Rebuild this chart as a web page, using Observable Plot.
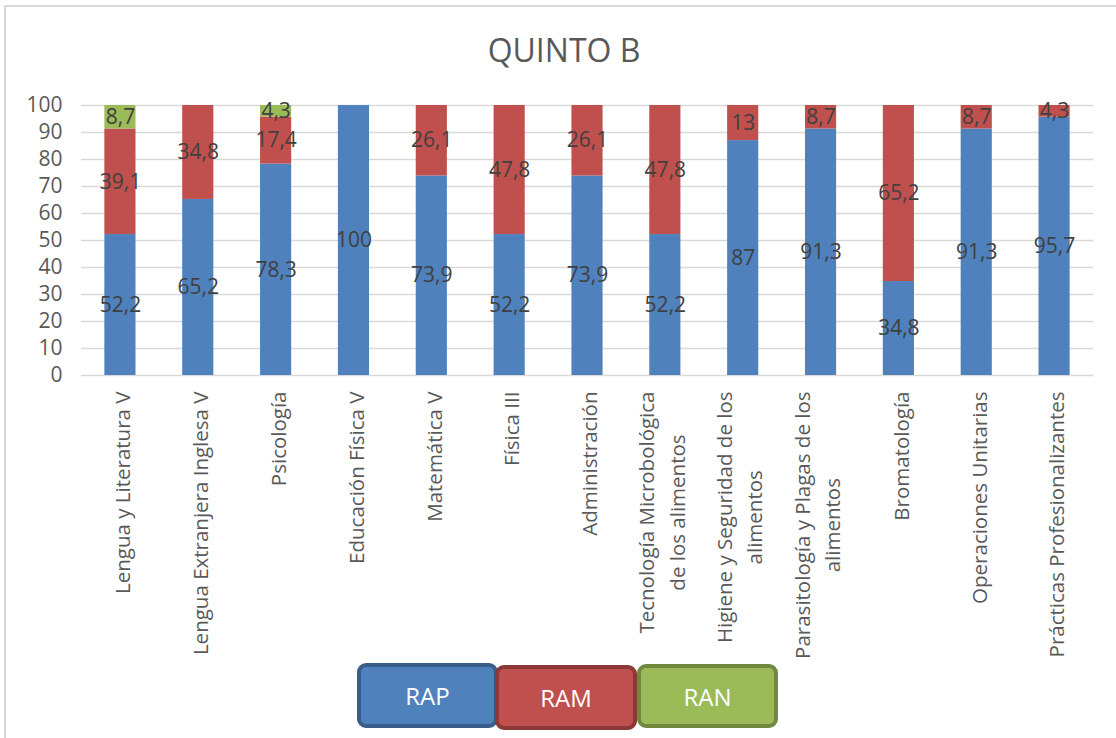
<!DOCTYPE html>
<html><head><meta charset="utf-8">
<script src="https://cdn.jsdelivr.net/npm/d3@7"></script>
<script src="https://cdn.jsdelivr.net/npm/@observablehq/plot@0.6"></script>
<style>
body{margin:0;background:#fff;font-family:"Open Sans",sans-serif;}
#wrap{position:relative;width:1116px;height:738px;overflow:hidden;background:#fff;}
#frame{position:absolute;left:4px;top:5px;width:1200px;height:800px;border-top:2px solid #d9d9d9;border-left:2px solid #d9d9d9;}
#chart{position:absolute;left:0;top:0;}
#title{position:absolute;left:6px;width:1116px;top:34px;text-align:center;font-size:32px;line-height:32px;color:#595959;}
.leg{position:absolute;box-sizing:border-box;border-radius:9px;border:4px solid;color:#fff;font-size:24px;display:flex;align-items:center;justify-content:center;}
</style></head>
<body>
<div id="wrap">
  <div id="frame"></div>
  <div id="chart"></div>
  <div id="title">QUINTO B</div>
  <div id="legend"></div>
</div>
<script>
const categories = [
  "Lengua y Literatura V",
  "Lengua Extranjera Inglesa V",
  "Psicología",
  "Educación Física V",
  "Matemática V",
  "Física III",
  "Administración",
  "Tecnología Microbológica\nde los alimentos",
  "Higiene y Seguridad de los\nalimentos",
  "Parasitología y Plagas de los\nalimentos",
  "Bromatología",
  "Operaciones Unitarias",
  "Prácticas Profesionalizantes"
];
const rap = [52.2, 65.2, 78.3, 100, 73.9, 52.2, 73.9, 52.2, 87, 91.3, 34.8, 91.3, 95.7];
const ram = [39.1, 34.8, 17.4, 0, 26.1, 47.8, 26.1, 47.8, 13, 8.7, 65.2, 8.7, 4.3];
const ran = [8.7, 0, 4.3, 0, 0, 0, 0, 0, 0, 0, 0, 0, 0];
const series = ["RAP", "RAM", "RAN"];
const colors = ["#4F81BD", "#C0504D", "#9BBB59"];
const borders = ["#385D8A", "#8C3836", "#71893F"];
const yTicks = [0, 10, 20, 30, 40, 50, 60, 70, 80, 90, 100];

const values = [rap, ram, ran];
const data = [];
categories.forEach((c, i) => {
  series.forEach((s, j) => {
    const v = values[j][i];
    if (v > 0) data.push({cat: c, series: s, value: v});
  });
});

const chart = Plot.plot({
  width: 1116,
  height: 660,
  marginLeft: 81,
  marginRight: 23,
  marginTop: 105,
  marginBottom: 285,
  style: {fontFamily: "'Open Sans', sans-serif", fontSize: "20px", color: "#595959", background: "transparent"},
  x: {domain: categories, paddingInner: 0.6, paddingOuter: 0.3, round: false, label: null},
  y: {domain: [0, 100], label: null},
  color: {domain: series, range: colors},
  marks: [
    Plot.gridY(yTicks, {stroke: "#d9d9d9", strokeOpacity: 1, strokeWidth: 1.5}),
    Plot.axisY(yTicks, {tickSize: 0, tickPadding: 19, label: null, fill: "#595959", fontSize: 21}),
    Plot.barY(data, {x: "cat", y: "value", fill: "series"}),
    Plot.text(data, Plot.stackY({x: "cat", y: "value", z: "series",
      text: d => String(d.value).replace(".", ","), fill: "#404040", fontSize: 21})),
    Plot.axisX({tickSize: 0, tickPadding: 16, rotate: -90, textAnchor: "end", lineAnchor: "middle",
      lineHeight: 1.5, fill: "#595959", fontSize: 20.5, label: null})
  ]
});
document.getElementById("chart").appendChild(chart);

// center the lines of multi-line category labels relative to each other
chart.querySelectorAll('g[aria-label="x-axis tick label"] text').forEach(t => {
  const spans = t.querySelectorAll("tspan");
  if (spans.length < 2) return;
  let maxW = 0;
  spans.forEach(s => { maxW = Math.max(maxW, s.getComputedTextLength()); });
  t.setAttribute("text-anchor", "middle");
  t.style.textAnchor = "middle";
  spans.forEach(s => s.setAttribute("x", -maxW / 2));
  const tr = t.getAttribute("transform") || "";
  t.setAttribute("transform", tr + " translate(0,-6)");
});

// legend
const legBoxes = [
  {left: 357, top: 663, width: 141, height: 65},
  {left: 495, top: 665, width: 142, height: 65},
  {left: 637, top: 664, width: 141, height: 64}
];
const legend = document.getElementById("legend");
series.forEach((s, i) => {
  const d = document.createElement("div");
  d.className = "leg";
  const b = legBoxes[i];
  d.style.left = b.left + "px"; d.style.top = b.top + "px";
  d.style.width = b.width + "px"; d.style.height = b.height + "px";
  d.style.background = colors[i];
  d.style.borderColor = borders[i];
  d.textContent = s;
  legend.appendChild(d);
});
</script>
</body></html>
